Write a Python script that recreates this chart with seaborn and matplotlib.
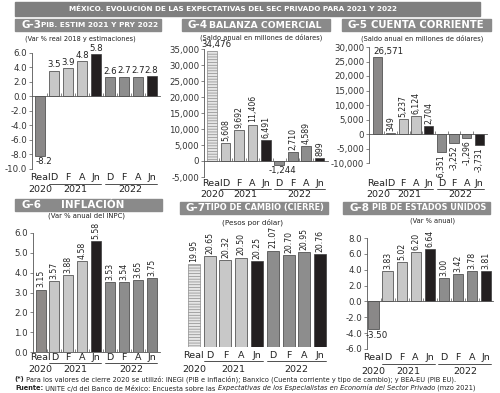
import numpy as np
import pandas as pd
import seaborn as sns
import matplotlib.pyplot as plt
from matplotlib import transforms
from matplotlib.patches import Rectangle

sns.set_style("white")
plt.rcParams['font.family'] = ['DejaVu Sans']
plt.rcParams['hatch.linewidth'] = 0.5
plt.rcParams['hatch.color'] = '#8a8a8a'

# categories
cats = ["Real", "D", "F", "A", "Jn", "D", "F", "A", "Jn"]
keys = ["Real 2020", "D 2021", "F 2021", "A 2021", "Jn 2021",
        "D 2022", "F 2022", "A 2022", "Jn 2022"]
years = ["2020", "2021", "2022"]

# series
pib_mx = [-8.2, 3.5, 3.9, 4.8, 5.8, 2.6, 2.7, 2.7, 2.8]
balanza = [34476, 5608, 9692, 11406, 6491, -1244, 2710, 4589, 899]
cuenta = [26571, 349, 5237, 6124, 2704, -6351, -3252, -1296, -3731]
inflacion = [3.15, 3.57, 3.88, 4.58, 5.58, 3.53, 3.54, 3.65, 3.75]
tipo_cambio = [19.95, 20.65, 20.32, 20.50, 20.25, 21.07, 20.70, 20.95, 20.76]
pib_eu = [-3.50, 3.83, 5.02, 6.20, 6.64, 3.00, 3.42, 3.78, 3.81]

W, H = 500, 393
fig = plt.figure(figsize=(5, 3.93), dpi=100)
fig.patch.set_facecolor('white')
renderer = fig.canvas.get_renderer()

DARK = '#231f20'
LIGHT = '#c8c8c8'
MID = '#8d8d8d'
HEAD = '#8a8a8a'


def fy(y):
    return 1 - y / H


def rect(x0, y0, x1, y1):
    return [x0 / W, fy(y1), (x1 - x0) / W, (y1 - y0) / H]


def fit(t, maxw):
    # shrink a text until it is no wider than maxw pixels
    while t.get_window_extent(renderer=renderer).width > maxw and t.get_fontsize() > 3:
        t.set_fontsize(t.get_fontsize() - 0.2)
    return t


def header_box(x0, y0, x1, y1, tag, title, tx0, tx1):
    fig.patches.append(Rectangle((x0 / W, fy(y1)), (x1 - x0) / W, (y1 - y0) / H,
                                 transform=fig.transFigure, color=HEAD, zorder=0))
    ym = fy((y0 + y1) / 2)
    fig.text((x0 + 6) / W, ym, tag, color='white', fontsize=7.5, weight='bold', va='center')
    t = fig.text((tx0 + tx1) / 2 / W, ym, title, color='white', fontsize=7.5, weight='bold',
                 va='center', ha='center')
    fit(t, tx1 - tx0)


def panel(box, values, ylim, xlim, yticks, yfmt, lfmt, horiz, colors, hatch_real,
          cat_y, line_y, year_y, width=0.72, show_y=True, zero_axis=True):
    ax = fig.add_axes(rect(*box))
    df = pd.DataFrame({'key': keys, 'val': values})
    sns.barplot(data=df, x='key', y='val', hue='key', palette=dict(zip(keys, colors)),
                legend=False, width=width, saturation=1, ax=ax,
                edgecolor='#3c3c3c', linewidth=0.5)
    if hatch_real:
        ax.patches[0].set_hatch('------')
        ax.patches[0].set_edgecolor('#8a8a8a')
    ax.set_xlim(*xlim)
    ax.set_ylim(*ylim)
    ax.set_xlabel('')
    ax.set_ylabel('')
    for s in ['top', 'right']:
        ax.spines[s].set_visible(False)
    if show_y:
        ax.set_yticks(yticks)
        ax.set_yticklabels([yfmt(t) for t in yticks], fontsize=6.2, color='#333333')
        ax.spines['left'].set_color('#555555')
        ax.spines['left'].set_linewidth(0.6)
        ax.tick_params(axis='y', length=2, width=0.5, color='#555555', pad=1.5, left=True)
    else:
        ax.set_yticks([])
        ax.spines['left'].set_visible(False)
    if zero_axis:
        ax.spines['bottom'].set_position(('data', 0))
        ax.spines['bottom'].set_color('#555555')
        ax.spines['bottom'].set_linewidth(0.6)
        ax.set_xticks([i + 0.5 for i in range(8)])
        ax.set_xticklabels([])
        ax.tick_params(axis='x', length=2, width=0.5, color='#555555', direction='in', bottom=True)
    else:
        ax.spines['bottom'].set_visible(False)
        ax.set_xticks([])
    ax.patch.set_alpha(0)

    # value labels
    for i, v in enumerate(values):
        txt = lfmt(v)
        if i in horiz:
            dx, ha = horiz[i]
            ax.annotate(txt, (i, v), xytext=(dx, 1 if v >= 0 else -1), textcoords='offset points',
                        ha=ha, va='bottom' if v >= 0 else 'top', fontsize=6.2,
                        color='#222222', annotation_clip=False)
        else:
            ax.annotate(txt, (i, v), xytext=(0, 1.5 if v >= 0 else -1.5), textcoords='offset points',
                        rotation=90, ha='center', va='bottom' if v >= 0 else 'top',
                        fontsize=5.6, color='#222222', annotation_clip=False)

    tr = transforms.blended_transform_factory(ax.transData, fig.transFigure)
    for i, c in enumerate(cats):
        ax.text(i, fy(cat_y), c, transform=tr, ha='center', va='center', fontsize=6.8, color='#222222')
    for a, b in [(0.62, 4.38), (4.62, 8.38)]:
        ax.plot([a, b], [fy(line_y)] * 2, transform=tr, clip_on=False, color='#333333', lw=0.6)
    for x, yr in zip([0, 2.5, 6.5], years):
        ax.text(x, fy(year_y), yr, transform=tr, ha='center', va='center', fontsize=6.8, color='#222222')
    return ax


def f1(v):
    return f"{v:.1f}"


def f2(v):
    return f"{v:.2f}"


def fk(v):
    return f"{v:,.0f}"


base = ['#8a8888', LIGHT, LIGHT, LIGHT, DARK, MID, MID, MID, DARK]
hatched = ['#e6e6e6', LIGHT, LIGHT, LIGHT, DARK, MID, MID, MID, DARK]
infl_cols = ['#8e8a88', LIGHT, LIGHT, LIGHT, DARK, MID, MID, MID, '#858585']

# title bar
fig.patches.append(Rectangle((15 / W, fy(16)), 465 / W, 14 / H, transform=fig.transFigure,
                             color='#7f7f7f', zorder=0))
t = fig.text(233 / W, fy(9), "MÉXICO. EVOLUCIÓN DE LAS EXPECTATIVAS DEL SEC PRIVADO PARA 2021 Y 2022",
             color='white', fontsize=6.8, weight='bold', ha='center', va='center')
fit(t, 340)

# headers
header_box(15, 19, 161, 31, "G-3", "PIB. ESTIM 2021 Y PRY 2022", 40, 159)
header_box(182, 19, 330, 31, "G-4", "BALANZA COMERCIAL", 208, 322)
header_box(342, 19, 491, 31, "G-5", "CUENTA CORRIENTE", 370, 484)
header_box(15, 199, 162, 211, "G-6", "INFLACIÓN", 50, 135)
header_box(180, 202, 328, 214, "G-7", "TIPO DE CAMBIO (CIERRE)", 203, 326)
header_box(343, 202, 490, 214, "G-8", "PIB DE ESTADOS UNIDOS", 370, 488)

# subtitles
sub_kw = dict(fontsize=6, color='#222222', ha='center', va='center')
fit(fig.text(80 / W, fy(39), "(Var % real 2018 y estimaciones)", **sub_kw), 112)
fit(fig.text(261 / W, fy(37), "(Saldo anual en millones de dólares)", **sub_kw), 124)
fit(fig.text(422 / W, fy(38), "(Saldo anual en millones de dólares)", **sub_kw), 124)
fit(fig.text(87 / W, fy(216), "(Var % anual del INPC)", **sub_kw), 80)
fit(fig.text(252 / W, fy(222), "(Pesos por dólar)", **sub_kw), 62)
fit(fig.text(433 / W, fy(221), "(Var % anual)", **sub_kw), 46)

# panels
h3 = {i: (0, 'center') for i in range(9)}
h3[0] = (3, 'center')
panel((32, 52.7, 160, 169), pib_mx, (-10, 6), (-0.58, 8.6), np.arange(-10, 7, 2), f1, f1, h3,
      base, False, 177, 183.5, 190)

panel((204, 49, 328, 177), balanza, (-5000, 35000), (-0.6, 8.63), np.arange(-5000, 35001, 5000), fk, fk,
      {0: (3, 'center'), 5: (2, 'center')}, hatched, True, 184, 189, 194)

panel((369, 47, 487, 163), cuenta, (-10000, 30000), (-0.7, 8.6), np.arange(-10000, 30001, 5000), fk, fk,
      {0: (-3, 'left')}, base, False, 184, 189, 194)

panel((33, 233, 160, 352), inflacion, (0, 6), (-0.54, 8.6), np.arange(0, 7, 1), f1, f2,
      {}, infl_cols, False, 357, 363, 370)

panel((186, 222, 328, 347), tipo_cambio, (13.2, 23.4), (-0.5, 8.5), [], f1, f2,
      {}, hatched, True, 355, 361, 369, width=0.76, show_y=False, zero_axis=False)

panel((367, 238, 493, 349), pib_eu, (-6, 8), (-0.46, 8.5), np.arange(-6, 9, 2), f1, f2,
      {0: (2, 'center')}, base, False, 358, 364, 371)


# footnotes
def chain(x, y, parts, size):
    for txt, kw in parts:
        t = fig.text(x, y, txt, fontsize=size, color='#222222', va='center', **kw)
        bb = t.get_window_extent(renderer=renderer)
        x = bb.x1 / W


chain(14 / W, fy(379), [("(*)", dict(weight='bold')),
                        (" Para los valores de cierre 2020 se utilizó: INEGI (PIB e inflación); Banxico "
                         "(Cuenta corriente y tipo de cambio); y BEA-EU (PIB EU).", {})], 4.8)
chain(15 / W, fy(388), [("Fuente:", dict(weight='bold')),
                        (" UNITE c/d del Banco de México: Encuesta sobre las ", {}),
                        ("Expectativas de los Especialistas en Economía del Sector Privado", dict(style='italic')),
                        (" (mzo 2021)", {})], 4.8)

fig.savefig('out.png', dpi=100, facecolor='white')
